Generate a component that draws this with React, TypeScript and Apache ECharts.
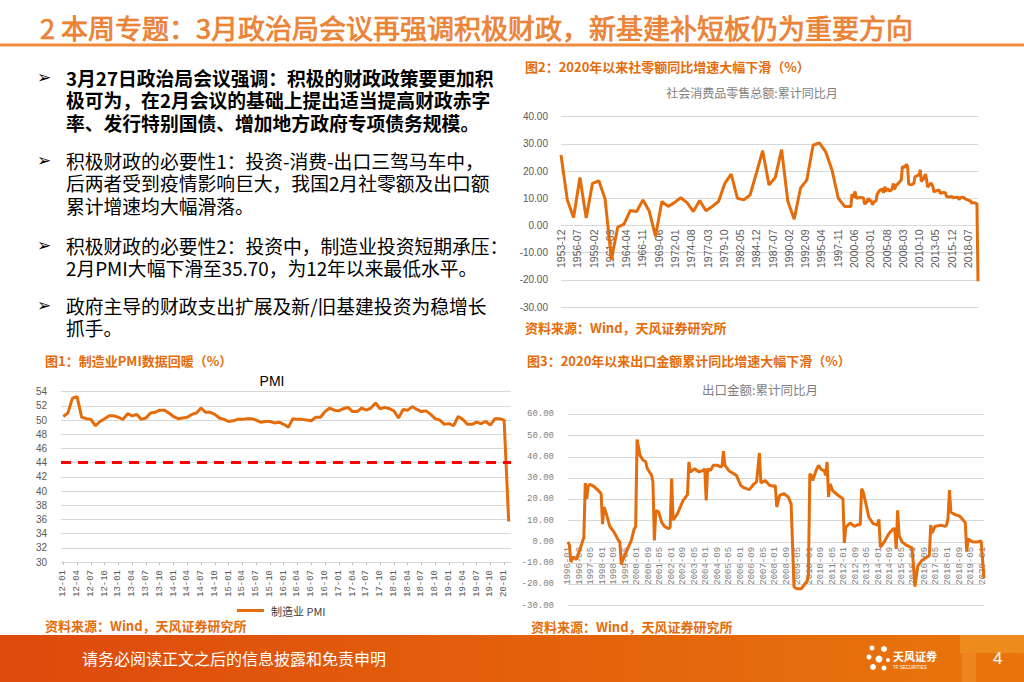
import React, { useEffect, useRef } from 'react';
import * as echarts from 'echarts';

// ---------- categories ----------
function monthRange(y0: number, m0: number, y1: number, m1: number, short = false): string[] {
  const out: string[] = [];
  let y = y0, m = m0;
  while (y < y1 || (y === y1 && m <= m1)) {
    const yy = short ? String(y).slice(2) : String(y);
    out.push(`${yy}-${String(m).padStart(2, '0')}`);
    m++;
    if (m > 12) { m = 1; y++; }
  }
  return out;
}
const retailMonths = monthRange(1953, 12, 2020, 2);
const pmiMonths = monthRange(2012, 1, 2020, 2, true);
const exportMonths = monthRange(1996, 1, 2020, 2);

// ---------- data ----------
const retailPoints: [string, number][] = [
  ['1953-12', 25.9], ['1954-12', 9.4], ['1955-12', 2.9], ['1956-12', 17.6], ['1957-12', 2.7],
  ['1958-12', 15.5], ['1959-12', 16.4], ['1960-12', 9.7], ['1961-12', -12.6], ['1962-12', -0.6],
  ['1963-12', 0.5], ['1964-12', 5.5], ['1965-12', 5.1], ['1966-12', 9.4], ['1967-12', 5.3],
  ['1968-12', -4.0], ['1969-12', 8.8], ['1970-12', 7.0], ['1971-12', 8.4], ['1972-12', 10.2],
  ['1973-12', 8.4], ['1974-12', 5.1], ['1975-12', 9.2], ['1976-12', 5.4], ['1977-12', 7.0],
  ['1978-12', 8.8], ['1979-12', 15.5], ['1980-12', 18.9], ['1981-12', 10.0], ['1982-12', 9.4],
  ['1983-12', 11.2], ['1984-12', 19.2], ['1985-12', 27.5], ['1986-12', 14.9], ['1987-12', 17.6],
  ['1988-12', 27.9], ['1989-12', 8.8], ['1990-12', 2.3], ['1991-12', 13.7], ['1992-12', 16.7],
  ['1993-12', 29.5], ['1994-12', 30.4], ['1995-12', 27.1], ['1996-12', 20.4], ['1997-12', 10.0],
  ['1998-12', 7.0], ['1999-12', 7.0],
  ['2000-02', 11.5], ['2000-05', 10.3], ['2000-08', 12.5], ['2000-10', 10.2], ['2000-12', 10.0],
  ['2001-02', 10.2], ['2001-06', 10.3], ['2001-12', 10.1],
  ['2002-02', 7.9], ['2002-06', 8.5], ['2002-09', 10.0], ['2002-12', 8.8],
  ['2003-02', 9.4], ['2003-05', 7.6], ['2003-08', 8.6], ['2003-12', 9.1],
  ['2004-02', 11.5], ['2004-06', 12.8], ['2004-10', 13.2], ['2004-12', 13.3],
  ['2005-02', 12.0], ['2005-05', 14.3], ['2005-06', 12.5], ['2005-10', 13.6], ['2005-12', 12.9],
  ['2006-02', 12.6], ['2006-06', 13.3], ['2006-09', 15.5], ['2006-10', 13.3], ['2006-12', 13.7],
  ['2007-02', 14.7], ['2007-06', 15.4], ['2007-12', 16.8],
  ['2008-02', 21.6], ['2008-06', 21.4], ['2008-10', 22.5], ['2008-12', 21.6],
  ['2009-02', 15.2], ['2009-06', 15.0], ['2009-09', 15.1], ['2009-12', 15.5],
  ['2010-02', 17.9], ['2010-05', 18.2], ['2010-10', 18.7], ['2010-12', 20.5],
  ['2011-02', 16.2], ['2011-06', 17.0], ['2011-10', 18.9], ['2011-12', 17.1],
  ['2012-02', 14.1], ['2012-05', 14.8], ['2012-09', 15.6], ['2012-12', 14.3],
  ['2013-02', 12.3], ['2013-06', 12.7], ['2013-12', 13.1],
  ['2014-02', 11.8], ['2014-06', 12.1], ['2014-12', 12.0],
  ['2015-02', 10.7], ['2015-06', 10.4], ['2015-12', 10.7],
  ['2016-02', 10.2], ['2016-06', 10.3], ['2016-12', 10.4],
  ['2017-02', 9.5], ['2017-06', 10.4], ['2017-12', 10.2],
  ['2018-02', 9.7], ['2018-06', 9.4], ['2018-12', 9.0],
  ['2019-02', 8.2], ['2019-06', 8.4], ['2019-12', 8.0],
  ['2020-02', -20.5],
];

const pmiValues: number[] = [
  50.5, 51.0, 53.1, 53.3, 50.4, 50.2, 50.1, 49.2, 49.8, 50.2, 50.6, 50.6,
  50.4, 50.1, 50.9, 50.6, 50.8, 50.1, 50.3, 51.0, 51.1, 51.4, 51.4, 51.0,
  50.5, 50.2, 50.3, 50.4, 50.8, 51.0, 51.7, 51.1, 51.1, 50.8, 50.3, 50.1,
  49.8, 49.9, 50.1, 50.1, 50.2, 50.2, 50.0, 49.7, 49.8, 49.8, 49.6, 49.7,
  49.4, 49.0, 50.2, 50.1, 50.1, 50.0, 49.9, 50.4, 50.4, 51.2, 51.7, 51.4,
  51.3, 51.6, 51.8, 51.2, 51.2, 51.7, 51.4, 51.7, 52.4, 51.6, 51.8, 51.6,
  51.3, 50.3, 51.5, 51.4, 51.9, 51.5, 51.2, 51.3, 50.8, 50.2, 50.0, 49.4,
  49.5, 49.2, 50.5, 50.1, 49.4, 49.4, 49.7, 49.5, 49.8, 49.3, 50.2, 50.2,
  50.0, 35.7,
];
const pmiReference = 44;

const exportPoints: [string, number][] = [
  ['1996-01', 0.0], ['1996-02', -1.5], ['1996-03', -9.4], ['1996-05', -7.0], ['1996-07', -8.3],
  ['1996-08', -6.2], ['1996-11', 0.0], ['1996-12', 2.1],
  ['1997-01', 27.7], ['1997-02', 20.3], ['1997-03', 26.1], ['1997-04', 27.1], ['1997-07', 26.1],
  ['1997-11', 23.5], ['1997-12', 22.7],
  ['1998-01', 8.3], ['1998-02', 16.4], ['1998-04', 12.4], ['1998-06', 7.3], ['1998-09', 4.6], ['1998-12', 0.7],
  ['1999-01', 0.0], ['1999-02', -10.6], ['1999-03', -8.6], ['1999-05', -5.5], ['1999-09', 0.7],
  ['1999-11', 6.2], ['1999-12', 7.0],
  ['2000-01', 48.1], ['2000-03', 40.8], ['2000-05', 38.5], ['2000-07', 37.7], ['2000-08', 34.6],
  ['2000-11', 31.4], ['2000-12', 28.2],
  ['2001-01', 0.7], ['2001-02', 14.8], ['2001-04', 14.0], ['2001-06', 9.3], ['2001-08', 7.3],
  ['2001-11', 6.2], ['2001-12', 7.0],
  ['2002-01', 29.8], ['2002-02', 10.2], ['2002-05', 13.2], ['2002-09', 19.5], ['2002-12', 22.2],
  ['2003-01', 37.6], ['2003-02', 32.9], ['2003-05', 34.4], ['2003-08', 32.9], ['2003-11', 33.6], ['2003-12', 34.4],
  ['2004-01', 19.5], ['2004-02', 34.4], ['2004-04', 33.6], ['2004-06', 36.0], ['2004-09', 36.0],
  ['2004-11', 35.2], ['2004-12', 35.7],
  ['2005-01', 42.7], ['2005-02', 36.0], ['2005-05', 33.3], ['2005-10', 31.3],
  ['2006-01', 26.6], ['2006-03', 25.5], ['2006-07', 24.6], ['2006-10', 27.1], ['2006-12', 28.2],
  ['2007-02', 41.8], ['2007-03', 27.7], ['2007-06', 28.9], ['2007-09', 26.6], ['2007-12', 26.1],
  ['2008-01', 26.6], ['2008-02', 16.4], ['2008-04', 21.9], ['2008-07', 22.7], ['2008-10', 21.1],
  ['2008-11', 19.5], ['2008-12', 17.9],
  ['2009-02', -21.2], ['2009-04', -22.0], ['2009-07', -22.0], ['2009-08', -21.2], ['2009-11', -18.5],
  ['2009-12', -16.0],
  ['2010-01', 32.0], ['2010-02', 31.3], ['2010-03', 28.9], ['2010-05', 33.0], ['2010-07', 36.0],
  ['2010-09', 34.0], ['2010-11', 33.6], ['2010-12', 31.3],
  ['2011-01', 37.6], ['2011-02', 21.1], ['2011-03', 27.3], ['2011-05', 24.0], ['2011-09', 21.7], ['2011-12', 20.3],
  ['2012-01', -0.5], ['2012-02', 6.9], ['2012-05', 8.9], ['2012-08', 7.3], ['2012-11', 8.3], ['2012-12', 7.9],
  ['2013-01', 25.0], ['2013-02', 23.6], ['2013-04', 17.9], ['2013-06', 11.6], ['2013-09', 8.6], ['2013-12', 7.9],
  ['2014-01', 10.6], ['2014-02', -2.4], ['2014-04', -0.8], ['2014-08', 3.9], ['2014-11', 6.2], ['2014-12', 6.1],
  ['2015-01', -3.3], ['2015-02', 14.8], ['2015-03', 3.1], ['2015-05', 0.0], ['2015-08', -1.5], ['2015-12', -2.8],
  ['2016-01', -11.2], ['2016-02', -21.0], ['2016-04', -11.3], ['2016-07', -8.6], ['2016-10', -7.3], ['2016-12', -6.5],
  ['2017-01', 7.9], ['2017-02', 4.2], ['2017-04', 7.3], ['2017-08', 7.8], ['2017-11', 7.3], ['2017-12', 7.9],
  ['2018-01', 11.1], ['2018-02', 24.4], ['2018-03', 14.0], ['2018-06', 12.8], ['2018-09', 12.2], ['2018-12', 9.9],
  ['2019-01', 9.1], ['2019-02', -4.6], ['2019-03', 1.4], ['2019-06', 0.1], ['2019-09', -0.1], ['2019-12', 0.5],
  ['2020-02', -17.2],
];

// ---------- texts ----------
const slideTitle = '2 本周专题：3月政治局会议再强调积极财政，新基建补短板仍为重要方向';
const paragraphs = [
  { lines: ['3月27日政治局会议强调：积极的财政政策要更加积', '极可为，在2月会议的基础上提出适当提高财政赤字', '率、发行特别国债、增加地方政府专项债务规模。'], y: 77, bold: true },
  { lines: ['积极财政的必要性1：投资-消费-出口三驾马车中，', '后两者受到疫情影响巨大，我国2月社零额及出口额', '累计增速均大幅滑落。'], y: 160 },
  { lines: ['积极财政的必要性2：投资中，制造业投资短期承压：', '2月PMI大幅下滑至35.70，为12年以来最低水平。'], y: 245 },
  { lines: ['政府主导的财政支出扩展及新/旧基建投资为稳增长', '抓手。'], y: 305 },
];
const source = '资料来源：Wind，天风证券研究所';
const cap1 = '图1：制造业PMI数据回暖（%）';
const cap2 = '图2：2020年以来社零额同比增速大幅下滑（%）';
const cap3 = '图3：2020年以来出口金额累计同比增速大幅下滑（%）';
const title2 = '社会消费品零售总额:累计同比月';
const title3 = '出口金额:累计同比月';
const footerText = '请务必阅读正文之后的信息披露和免责申明';

const ORANGE = '#E46C0A';
const CJK = '"Noto Sans CJK SC", sans-serif';
const LINE_H = 22.8;

// grid geometry (pixels)
const G2 = { left: 561, right: 46, top: 116.7, bottom: 375, min: -30, max: 40 };
const G1 = { left: 61, right: 513, top: 391.7, bottom: 120, min: 30, max: 54 };
const G3 = { left: 568, right: 40, top: 414.3, bottom: 76.3, min: -30, max: 60 };
function zeroOffset(g: { top: number; bottom: number; min: number; max: number }) {
  const h = 682 - g.top - g.bottom;
  return -(h * (0 - g.min)) / (g.max - g.min);
}

function toIdx(cats: string[], pts: [string, number][]) {
  return pts.map(([d, v]) => [cats.indexOf(d), v]);
}

function txt(text: string, x: number, y: number, size: number, fill: string, extra: any = {}) {
  return {
    type: 'text', x, y, silent: true,
    style: {
      text, fontSize: size, fontFamily: extra.family || CJK, fontWeight: extra.bold ? 'bold' : 'normal',
      fill, align: extra.align || 'left', verticalAlign: extra.valign || 'middle',
      lineHeight: extra.lineHeight || undefined,
      stroke: extra.stroke || undefined, lineWidth: extra.stroke ? (extra.strokeWidth || 0.6) : 0,
    },
  };
}

export default function App() {
  const ref = useRef<HTMLDivElement>(null);
  useEffect(() => {
    if (!ref.current) return;
    const chart = echarts.init(ref.current, undefined, { renderer: 'svg' });

    const graphics: any[] = [];
    graphics.push(txt(slideTitle, 40, 27, 27, '#EC8436', { stroke: '#DF6A12', strokeWidth: 0.7 }));
    graphics.push({ type: 'line', silent: true, shape: { x1: 0, y1: 45, x2: 1024, y2: 45 }, style: { stroke: '#F08C3C', lineWidth: 3 } });
    paragraphs.forEach((p) => {
      graphics.push(txt('➢', 37, p.y, 17, '#000', { family: '"DejaVu Sans"', lineHeight: 18 }));
      graphics.push(txt(p.lines.join('\n'), 66, p.y - LINE_H / 2, 18.8, '#000', { bold: !!p.bold, lineHeight: LINE_H, valign: 'top' }));
    });
    graphics.push(txt(cap2, 525, 66, 13, ORANGE, { bold: true }));
    graphics.push(txt(title2, 752, 92, 12, '#7F7F7F', { align: 'center' }));
    graphics.push(txt(source, 525, 327, 13, ORANGE, { bold: true }));
    graphics.push(txt(cap1, 45, 360, 13, ORANGE, { bold: true }));
    graphics.push(txt('PMI', 272, 381, 14, '#000', { align: 'center', family: '"Liberation Sans"' }));
    graphics.push(txt(source, 45, 625, 13, ORANGE, { bold: true }));
    graphics.push(txt(cap3, 527, 360, 13, ORANGE, { bold: true }));
    graphics.push(txt(title3, 760, 389, 12.5, '#7F7F7F', { align: 'center' }));
    graphics.push(txt(source, 531, 626, 13, ORANGE, { bold: true }));
    // footer
    graphics.push({
      type: 'rect', silent: true, shape: { x: 0, y: 635, width: 1024, height: 47 },
      style: { fill: new echarts.graphic.LinearGradient(0, 0, 1, 0, [
        { offset: 0, color: '#DE4A0C' }, { offset: 1, color: '#E8760C' }]) },
    });
    graphics.push({ type: 'rect', silent: true, shape: { x: 960, y: 635, width: 64, height: 18 }, style: { fill: '#EE8B1E' } });
    graphics.push({ type: 'rect', silent: true, shape: { x: 962, y: 653, width: 14, height: 29 }, style: { fill: '#EC8420' } });
    graphics.push(txt(footerText, 82, 658, 16, '#FFFFFF'));
    graphics.push(txt('4', 993, 658, 17, '#FFFFFF', { family: '"Liberation Sans"' }));
    // logo
    [[872, 648, 2.5], [884, 649, 3], [869, 657, 2.5], [879, 659, 3.5], [888, 660, 2], [873, 667, 3], [884, 668, 2.5]].forEach(([cx, cy, r]) => {
      graphics.push({ type: 'circle', silent: true, shape: { cx, cy, r }, style: { fill: '#FFFFFF' } });
    });
    graphics.push(txt('天风证券', 893, 656, 11, '#FFFFFF', { bold: true }));
    graphics.push(txt('TF SECURITIES', 893, 667, 4.5, '#FFFFFF', { family: '"Liberation Sans"' }));

    const gridLine = { lineStyle: { color: '#D9D9D9', width: 1 } };

    chart.setOption({
      animation: false,
      backgroundColor: '#FFFFFF',
      grid: [
        { left: G2.left, right: G2.right, top: G2.top, bottom: G2.bottom },
        { left: G1.left, right: G1.right, top: G1.top, bottom: G1.bottom },
        { left: G3.left, right: G3.right, top: G3.top, bottom: G3.bottom },
      ],
      legend: {
        data: ['制造业 PMI'], left: 232, top: 600, icon: 'rect', itemWidth: 27, itemHeight: 3, itemGap: 4,
        textStyle: { fontFamily: CJK, fontSize: 11, color: '#404040', padding: [0, 0, 0, 2] },
      },
      xAxis: [
        {
          gridIndex: 0, type: 'category', data: retailMonths, boundaryGap: false,
          offset: zeroOffset(G2),
          axisLine: { onZero: false, lineStyle: { color: '#D9D9D9' } }, axisTick: { show: false },
          axisLabel: { interval: 30, rotate: 90, color: '#595959', fontSize: 10.5, fontFamily: '"Liberation Sans"', margin: 4 },
        },
        {
          gridIndex: 1, type: 'category', data: pmiMonths, boundaryGap: true,
          axisLine: { lineStyle: { color: '#D9D9D9' } },
          axisTick: { show: true, interval: 2, alignWithLabel: true, length: 3, lineStyle: { color: '#BFBFBF' } },
          axisLabel: { interval: 2, rotate: 90, color: '#595959', fontSize: 9, fontFamily: '"Liberation Mono"', margin: 8 },
        },
        {
          gridIndex: 2, type: 'category', data: exportMonths, boundaryGap: false,
          offset: zeroOffset(G3),
          axisLine: { onZero: false, lineStyle: { color: '#D9D9D9' } }, axisTick: { show: false },
          axisLabel: { interval: 7, rotate: 90, color: '#7F7F7F', fontSize: 9, fontFamily: '"Liberation Mono"', margin: 5 },
        },
      ],
      yAxis: [
        {
          gridIndex: 0, type: 'value', min: G2.min, max: G2.max, interval: 10,
          axisLine: { show: false }, axisTick: { show: false }, splitLine: gridLine,
          axisLabel: { formatter: (v: number) => v.toFixed(2), color: '#595959', fontSize: 10, fontFamily: '"Liberation Sans"', margin: 13 },
        },
        {
          gridIndex: 1, type: 'value', min: G1.min, max: G1.max, interval: 2,
          axisLine: { show: false }, axisTick: { show: false }, splitLine: gridLine,
          axisLabel: { color: '#595959', fontSize: 10, fontFamily: '"Liberation Sans"', margin: 14 },
        },
        {
          gridIndex: 2, type: 'value', min: G3.min, max: G3.max, interval: 10,
          axisLine: { show: false }, axisTick: { show: false }, splitLine: gridLine,
          axisLabel: { formatter: (v: number) => v.toFixed(2), color: '#7F7F7F', fontSize: 9, fontFamily: '"Liberation Mono"', margin: 14 },
        },
      ],
      series: [
        {
          name: '社会消费品零售总额:累计同比月', type: 'line', xAxisIndex: 0, yAxisIndex: 0,
          data: toIdx(retailMonths, retailPoints), showSymbol: false,
          lineStyle: { color: ORANGE, width: 3 }, itemStyle: { color: ORANGE },
        },
        {
          name: '制造业 PMI', type: 'line', xAxisIndex: 1, yAxisIndex: 1,
          data: pmiValues, showSymbol: false,
          lineStyle: { color: ORANGE, width: 3 }, itemStyle: { color: ORANGE },
          markLine: {
            silent: true, symbol: ['none', 'none'], label: { show: false },
            lineStyle: { color: '#FF0000', type: [10, 7], width: 3 },
            data: [{ yAxis: pmiReference }],
          },
        },
        {
          name: '出口金额:累计同比月', type: 'line', xAxisIndex: 2, yAxisIndex: 2,
          data: toIdx(exportMonths, exportPoints), showSymbol: false,
          lineStyle: { color: ORANGE, width: 3 }, itemStyle: { color: ORANGE },
        },
      ],
      graphic: graphics,
    });
    return () => chart.dispose();
  }, []);

  return (
    <div
      ref={ref}
      style={{ position: 'fixed', left: 0, top: 0, width: 1024, height: 682, background: '#fff' }}
    />
  );
}
